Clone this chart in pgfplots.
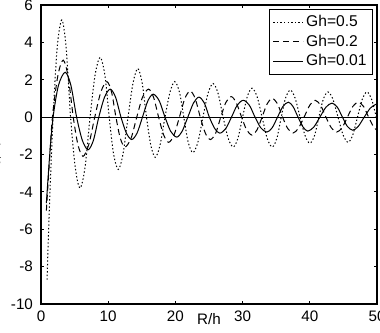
\documentclass[border=0pt]{standalone}
\usepackage{pgfplots}
\pgfplotsset{compat=1.18}
\usepackage{fontspec}
\setmainfont{Liberation Sans}
\begin{document}
\begin{tikzpicture}
\begin{axis}[
  scale only axis,
  width=168pt, height=149.5pt,
  xmin=0, xmax=50, ymin=-10, ymax=6,
  xtick={0,10,20,30,40,50},
  ytick={-10,-8,-6,-4,-2,0,2,4,6},
  tick align=inside,
  major tick length=1.6pt,
  axis line style={line width=0.6pt},
  every tick/.style={black, line width=0.4pt},
  font=\fontsize{7.6}{8.5}\selectfont,
  /pgf/number format/assume math mode=true,
  ticklabel style={font=\fontsize{7.6}{8.5}\selectfont},
  yticklabel style={xshift=-0.5pt},
  xlabel={R/h},
  xlabel style={at={(axis description cs:0.5,0)}, anchor=center, yshift=-7.5pt},
  ylabel={$\xi/\eta$},
  ylabel style={at={(axis description cs:-0.098,0.5)}, anchor=south, rotate=0},
  legend style={at={(axis description cs:0.988,0.986)}, anchor=north east,
    draw=black, line width=0.5pt, font=\fontsize{7.8}{8.5}\selectfont,
    inner sep=1.8pt, row sep=0pt, nodes={inner sep=1.2pt}},
  legend cell align=left,
  legend image code/.code={\draw[#1] (0pt,0pt) -- (15pt,0pt);},
]
\addplot [black, line width=0.5pt, dash pattern=on 0.7pt off 1.1pt, smooth, tension=0.5] coordinates {
(0.9,-8.7) (1.2,-5.3) (1.5,-2.5) (1.8,0) (2.4,3.7) (3.1,5.2) (3.75,3.7) (4.4,0) (5.1,-2.7) (5.8,-3.8) (6.55,-2.7) (7.3,0) (8.05,2.26) (8.8,3.2) (9.5,2.26) (10.15,0) (10.8,-1.98) (11.5,-2.8) (12.2,-1.98) (12.95,0) (13.7,1.84) (14.4,2.6) (15.05,1.84) (15.7,0) (16.35,-1.52) (17.0,-2.15) (17.7,-1.52) (18.45,0) (19.2,1.34) (19.9,1.9) (20.6,1.34) (21.25,0) (21.9,-1.34) (22.6,-1.9) (23.35,-1.34) (24.1,0) (24.85,1.27) (25.6,1.8) (26.35,1.27) (27.1,0) (27.85,-1.13) (28.6,-1.6) (29.3,-1.13) (30.0,0) (30.7,1.1) (31.4,1.55) (32.15,1.1) (32.9,0) (33.65,-1.13) (34.4,-1.6) (35.1,-1.13) (35.75,0) (36.4,1.03) (37.1,1.45) (37.8,1.03) (38.55,0) (39.3,-0.99) (40.0,-1.4) (40.7,-0.99) (41.35,0) (42.0,0.95) (42.7,1.35) (43.45,0.95) (44.2,0) (44.95,-0.95) (45.7,-1.35) (46.4,-0.95) (47.1,0) (47.8,0.95) (48.5,1.35) (49.2,0.95) (49.9,0) (50,-0.1)
};
\addlegendentry{Gh=0.5}
\addplot [black, line width=0.5pt, dash pattern=on 3pt off 2pt, smooth, tension=0.5] coordinates {
(0.8,-5.0) (1.25,-2.4) (1.7,0) (2.5,2.2) (3.3,3.05) (4.05,2.15) (4.8,0) (5.5,-1.48) (6.25,-2.1) (7.1,-1.48) (8.0,0) (8.9,1.34) (9.8,1.9) (10.5,1.34) (11.15,0) (11.8,-1.13) (12.5,-1.6) (13.4,-1.13) (14.25,0) (15.1,1.06) (16.0,1.5) (16.75,1.06) (17.5,0) (18.25,-0.95) (19.0,-1.35) (19.8,-0.95) (20.6,0) (21.4,0.99) (22.2,1.4) (22.95,0.99) (23.7,0) (24.45,-0.85) (25.2,-1.2) (26.0,-0.85) (26.75,0) (27.5,0.78) (28.3,1.1) (29.05,0.78) (29.85,0) (30.6,-0.68) (31.4,-0.96) (32.15,-0.68) (32.9,0) (33.65,0.71) (34.4,1.0) (35.2,0.71) (35.95,0) (36.7,-0.6) (37.5,-0.85) (38.3,-0.6) (39.15,0) (40.0,0.64) (40.8,0.9) (41.6,0.64) (42.4,0) (43.2,-0.57) (44.0,-0.8) (44.8,-0.57) (45.6,0) (46.4,0.57) (47.2,0.8) (48.0,0.57) (48.75,0) (49.5,-0.53) (50,-0.7)
};
\addlegendentry{Gh=0.2}
\addplot [black, line width=0.5pt, smooth, tension=0.5] coordinates {
(0.8,-4.6) (1.3,-2.0) (1.8,0) (2.6,1.7) (3.6,2.4) (4.45,1.7) (5.3,0) (6.15,-1.24) (7.0,-1.75) (7.8,-1.24) (8.6,0) (9.45,1.06) (10.3,1.5) (11.1,1.06) (11.9,0) (12.7,-0.85) (13.5,-1.2) (14.3,-0.85) (15.1,0) (15.9,0.87) (16.7,1.23) (17.6,0.87) (18.45,0) (19.3,-0.76) (20.2,-1.07) (21.0,-0.76) (21.85,0) (22.7,0.76) (23.5,1.07) (24.3,0.76) (25.05,0) (25.85,-0.61) (26.6,-0.86) (27.5,-0.61) (28.35,0) (29.2,0.64) (30.1,0.9) (31.0,0.64) (31.85,0) (32.7,-0.57) (33.6,-0.8) (34.4,-0.57) (35.2,0) (36.0,0.57) (36.8,0.8) (37.5,0.57) (38.25,0) (39.0,-0.53) (39.7,-0.75) (40.6,-0.53) (41.5,0) (42.4,0.53) (43.3,0.75) (44.1,0.53) (44.85,0) (45.6,-0.5) (46.4,-0.7) (47.2,-0.5) (48.1,0) (49.0,0.48) (49.8,0.68) (50,0.67)
};
\addlegendentry{Gh=0.01}
\addplot [black, line width=0.5pt, forget plot] coordinates {(0,0) (50,0)};
\end{axis}
\pgfresetboundingbox
\path[use as bounding box] ([shift={(-20.5pt,-14pt)}]current axis.south west) rectangle ([shift={(1.5pt,2.5pt)}]current axis.north east);
\end{tikzpicture}
\end{document}
